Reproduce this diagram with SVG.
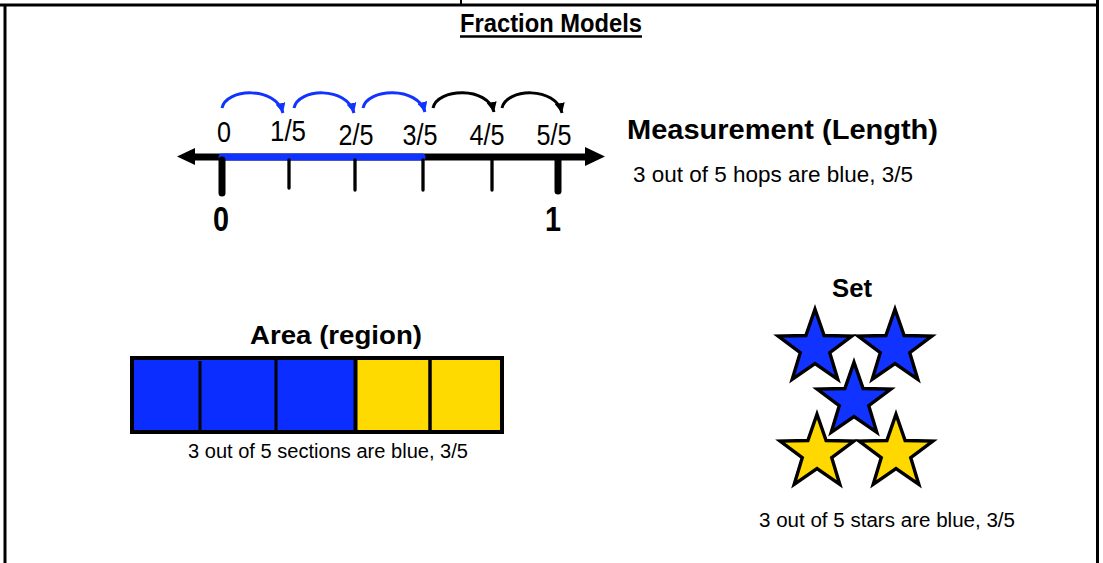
<svg xmlns="http://www.w3.org/2000/svg" width="1103" height="563" viewBox="0 0 1103 563">
<style>
text{font-family:"Liberation Sans",Arial,sans-serif;fill:#000}
.b{font-weight:bold}
.frame{stroke:#000;stroke-width:3;fill:none}
.lbl{font-size:30px;text-anchor:middle}
.star{stroke:#000;stroke-width:3.5;stroke-linejoin:miter}
.blue{fill:#1133FF}
.yel{fill:#FFD800}
.hopb{fill:none;stroke:#1133FF;stroke-width:3}
.hopk{fill:none;stroke:#000;stroke-width:3}
</style>
<defs>
<marker id="ab" viewBox="0 0 10 10" refX="10" refY="5" markerWidth="10" markerHeight="10" markerUnits="userSpaceOnUse" orient="auto"><path d="M0,0 L10,5 L0,10 z" fill="#1133FF"/></marker>
<marker id="ak" viewBox="0 0 10 10" refX="10" refY="5" markerWidth="10" markerHeight="10" markerUnits="userSpaceOnUse" orient="auto"><path d="M0,0 L10,5 L0,10 z" fill="#000"/></marker>
<path id="star" d="M0,-40 L9.4,-12.9 L38.04,-12.36 L15.2,4.9 L23.51,32.36 L0,16 L-23.51,32.36 L-15.2,4.9 L-38.04,-12.36 L-9.4,-12.9 Z"/>
</defs>
<rect width="1103" height="563" fill="#fff"/>
<g id="frame">
<line class="frame" x1="0" y1="5" x2="1099" y2="5"/>
<line class="frame" x1="5" y1="4" x2="5" y2="563"/>
<line class="frame" x1="1097.5" y1="0" x2="1097.5" y2="563"/>
<line x1="461" y1="0" x2="461" y2="5" stroke="#000" stroke-width="2"/>
</g>
<g id="title">
<text class="b" x="551" y="32" font-size="26" text-anchor="middle" textLength="182" lengthAdjust="spacingAndGlyphs">Fraction Models</text>
<line x1="460" y1="36.5" x2="642" y2="36.5" stroke="#000" stroke-width="2.5"/>
</g>
<g id="numberline">
<line x1="192" y1="157" x2="590" y2="157" stroke="#000" stroke-width="7"/>
<path d="M177,156.5 L195,148 L195,165 Z" fill="#000"/>
<path d="M605,156.5 L585,147 L585,166 Z" fill="#000"/>
<line x1="222" y1="157" x2="422" y2="157" stroke="#1133FF" stroke-width="7" stroke-linecap="round"/>
<line x1="222" y1="160" x2="222" y2="193" stroke="#000" stroke-width="7" stroke-linecap="round"/>
<line x1="558" y1="160" x2="558" y2="191" stroke="#000" stroke-width="7" stroke-linecap="round"/>
<g stroke="#000" stroke-width="3.3" stroke-linecap="round">
<line x1="289" y1="160" x2="289" y2="188"/>
<line x1="355" y1="160" x2="355" y2="190"/>
<line x1="423" y1="160" x2="423" y2="190"/>
<line x1="492" y1="160" x2="492" y2="190"/>
</g>
<text class="lbl" x="224" y="142" textLength="14" lengthAdjust="spacingAndGlyphs">0</text>
<text class="lbl" x="288" y="141" textLength="36" lengthAdjust="spacingAndGlyphs">1/5</text>
<text class="lbl" x="356" y="145" textLength="35" lengthAdjust="spacingAndGlyphs">2/5</text>
<text class="lbl" x="420" y="145" textLength="35" lengthAdjust="spacingAndGlyphs">3/5</text>
<text class="lbl" x="487" y="145" textLength="35" lengthAdjust="spacingAndGlyphs">4/5</text>
<text class="lbl" x="554" y="145" textLength="35" lengthAdjust="spacingAndGlyphs">5/5</text>
<text class="b" x="221" y="231" font-size="35" text-anchor="middle" textLength="16" lengthAdjust="spacingAndGlyphs">0</text>
<text class="b" x="553" y="231" font-size="35" text-anchor="middle" textLength="16" lengthAdjust="spacingAndGlyphs">1</text>
</g>
<g id="hops">
<path class="hopb" d="M222,108 C226,88 276,86 283,113" marker-end="url(#ab)"/>
<path class="hopb" d="M294,108 C298,88 347,86 354,113" marker-end="url(#ab)"/>
<path class="hopb" d="M363,108 C367,88 418,86 425,112" marker-end="url(#ab)"/>
<path class="hopk" d="M433,108 C437,88 488,86 494,112" marker-end="url(#ak)"/>
<path class="hopk" d="M502,108 C506,88 556,86 562,113" marker-end="url(#ak)"/>
</g>
<g id="measurement">
<text class="b" x="627" y="139" font-size="28" textLength="311" lengthAdjust="spacingAndGlyphs">Measurement (Length)</text>
<text x="633" y="182" font-size="22" textLength="280" lengthAdjust="spacingAndGlyphs">3 out of 5 hops are blue, 3/5</text>
</g>
<g id="area">
<text class="b" x="336" y="344" font-size="26" text-anchor="middle" textLength="172" lengthAdjust="spacingAndGlyphs">Area (region)</text>
<rect x="132" y="358" width="224" height="74" fill="#0B2DFF"/>
<rect x="356" y="358" width="146" height="74" fill="#FFDA00"/>
<rect x="132" y="358" width="370" height="74" fill="none" stroke="#000" stroke-width="4"/>
<g stroke="#000">
<line x1="200" y1="361" x2="200" y2="432" stroke-width="3"/>
<line x1="276" y1="358" x2="276" y2="432" stroke-width="3"/>
<line x1="355.5" y1="358" x2="355.5" y2="432" stroke-width="4"/>
<line x1="430" y1="358" x2="430" y2="432" stroke-width="3.5"/>
</g>
<text x="188" y="458" font-size="20" textLength="280" lengthAdjust="spacingAndGlyphs">3 out of 5 sections are blue, 3/5</text>
</g>
<g id="set">
<text class="b" x="852" y="297" font-size="25" text-anchor="middle" textLength="40" lengthAdjust="spacingAndGlyphs">Set</text>
<use href="#star" class="star yel" transform="translate(817,453) scale(0.97)"/>
<use href="#star" class="star yel" transform="translate(896,453) scale(0.97)"/>
<use href="#star" class="star blue" transform="translate(815,348) scale(0.97)"/>
<use href="#star" class="star blue" transform="translate(895,348) scale(0.97)"/>
<use href="#star" class="star blue" transform="translate(854,401) scale(0.97)"/>
<text x="759" y="527" font-size="20" textLength="256" lengthAdjust="spacingAndGlyphs">3 out of 5 stars are blue, 3/5</text>
</g>
</svg>
